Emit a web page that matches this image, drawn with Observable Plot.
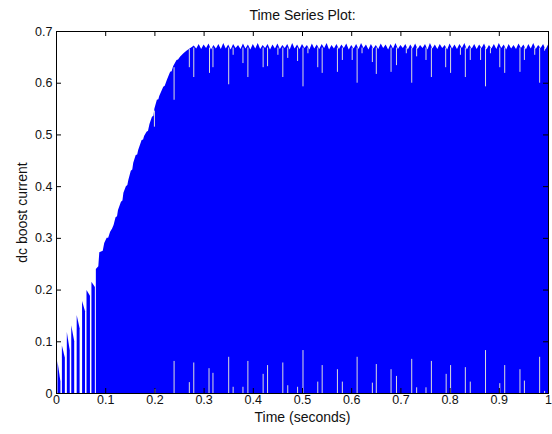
<!DOCTYPE html>
<html>
<head>
<meta charset="utf-8">
<script src="https://cdn.jsdelivr.net/npm/d3@7"></script>
<script src="https://cdn.jsdelivr.net/npm/@observablehq/plot@0.6"></script>
<style>
  html, body { margin: 0; padding: 0; background: #fff; }
  #chart svg { display: block; }
</style>
</head>
<body>
<div id="chart"></div>
<script>
// ---- tick values and labels ----
const xTicks = [0, 0.1, 0.2, 0.3, 0.4, 0.5, 0.6, 0.7, 0.8, 0.9, 1];
const xTickLabels = ["0", "0.1", "0.2", "0.3", "0.4", "0.5", "0.6", "0.7", "0.8", "0.9", "1"];
const yTicks = [0, 0.1, 0.2, 0.3, 0.4, 0.5, 0.6, 0.7];
const yTickLabels = ["0", "0.1", "0.2", "0.3", "0.4", "0.5", "0.6", "0.7"];

// ---- early separate pulses (start, end, peak, value at end) ----
const pulseStart = [0.003, 0.012, 0.022, 0.031, 0.042, 0.053, 0.062, 0.072];
const pulseEnd   = [0.009, 0.018, 0.028, 0.037, 0.048, 0.059, 0.069, 0.079];
const pulsePeak  = [0.062, 0.092, 0.118, 0.131, 0.151, 0.178, 0.199, 0.215];
const pulseLow   = [0.022, 0.068, 0.082, 0.100, 0.125, 0.158, 0.188, 0.205];

// ---- rising envelope of the continuous current ----
const riseT = [0.081, 0.086, 0.088, 0.095, 0.098, 0.103, 0.106, 0.110, 0.114, 0.117, 0.121, 0.124, 0.126, 0.132,
               0.135, 0.137, 0.142, 0.145, 0.147, 0.152, 0.155, 0.157, 0.162, 0.165, 0.167, 0.174, 0.177, 0.179,
               0.184, 0.187, 0.190, 0.195, 0.198, 0.200, 0.205, 0.208, 0.210, 0.218, 0.221, 0.225, 0.232, 0.235,
               0.238, 0.245, 0.248, 0.252, 0.259, 0.265, 0.270, 0.276];
const riseV = [0.240, 0.245, 0.272, 0.275, 0.290, 0.300, 0.300, 0.312, 0.318, 0.325, 0.340, 0.342, 0.354, 0.370,
               0.372, 0.387, 0.400, 0.402, 0.412, 0.430, 0.432, 0.445, 0.460, 0.461, 0.470, 0.489, 0.490, 0.497,
               0.505, 0.507, 0.520, 0.534, 0.536, 0.550, 0.567, 0.568, 0.575, 0.592, 0.594, 0.605, 0.621, 0.622,
               0.632, 0.644, 0.645, 0.650, 0.657, 0.662, 0.665, 0.669];

// ---- steady-state envelope (ripple), sampled every 0.005 s from 0.28 s ----
const flatStart = 0.28, flatStep = 0.005;
const flatV = [
  0.672,0.666,0.675,0.665,0.674,0.667,0.676,0.664,0.673,0.666,
  0.675,0.665,0.677,0.666,0.674,0.664,0.675,0.667,0.673,0.665,
  0.676,0.666,0.674,0.664,0.675,0.666,0.677,0.665,0.673,0.667,
  0.675,0.664,0.674,0.666,0.676,0.665,0.673,0.667,0.675,0.664,
  0.677,0.666,0.674,0.665,0.675,0.667,0.673,0.664,0.676,0.666,
  0.674,0.665,0.675,0.667,0.677,0.664,0.673,0.666,0.675,0.665,
  0.674,0.667,0.676,0.664,0.673,0.666,0.675,0.665,0.677,0.667,
  0.674,0.664,0.675,0.666,0.673,0.665,0.676,0.667,0.674,0.664,
  0.675,0.666,0.677,0.665,0.673,0.667,0.675,0.664,0.674,0.666,
  0.676,0.665,0.673,0.667,0.675,0.664,0.677,0.666,0.674,0.665,
  0.675,0.667,0.673,0.664,0.676,0.666,0.674,0.665,0.675,0.667,
  0.677,0.664,0.673,0.666,0.675,0.665,0.674,0.667,0.676,0.664,
  0.673,0.666,0.675,0.665,0.677,0.667,0.674,0.664,0.675,0.666,
  0.673,0.665,0.676,0.667,0.674,0.664,0.675,0.666,0.677,0.665,
  0.673,0.667,0.675,0.664,0.674
];

// ---- dips from the top (time, lowest value, envelope at that time) ----
const dipT = [0.199,0.239,0.270,0.279,0.311,0.318,0.350,0.359,0.379,0.389,0.420,0.429,0.450,0.460,0.470,0.490,
              0.501,0.511,0.531,0.540,0.571,0.581,0.601,0.611,0.621,0.642,0.650,0.680,0.691,0.711,0.722,0.732,
              0.751,0.762,0.791,0.801,0.821,0.831,0.841,0.862,0.872,0.882,0.901,0.911,0.942,0.951,0.972,0.982,0.992];
const dipV = [0.515,0.567,0.630,0.611,0.619,0.630,0.597,0.654,0.638,0.611,0.630,0.632,0.654,0.611,0.648,0.642,
              0.593,0.657,0.630,0.619,0.621,0.644,0.644,0.600,0.657,0.640,0.617,0.621,0.634,0.657,0.600,0.651,
              0.644,0.611,0.630,0.619,0.654,0.611,0.644,0.644,0.593,0.657,0.630,0.619,0.621,0.644,0.654,0.600,0.662];
const dipTop = [0.546,0.630,0.665,0.668,0.668,0.668,0.668,0.668,0.668,0.668,0.668,0.668,0.668,0.668,0.668,0.668,
                0.668,0.668,0.668,0.668,0.668,0.668,0.668,0.668,0.668,0.668,0.668,0.668,0.668,0.668,0.668,0.668,
                0.668,0.668,0.668,0.668,0.668,0.668,0.668,0.668,0.668,0.668,0.668,0.668,0.668,0.668,0.668,0.668,0.668];

// ---- zero-current gaps from the bottom (time, height) ----
const gapT = [0.200,0.239,0.270,0.279,0.310,0.318,0.350,0.359,0.379,0.389,0.420,0.429,0.460,0.470,0.490,0.501,
              0.531,0.540,0.571,0.581,0.611,0.642,0.650,0.680,0.691,0.722,0.732,0.751,0.762,0.792,0.801,0.831,
              0.841,0.872,0.901,0.911,0.942,0.951,0.982,0.992];
const gapV = [0.008,0.062,0.021,0.059,0.048,0.039,0.070,0.012,0.012,0.062,0.037,0.054,0.059,0.015,0.012,0.083,
              0.022,0.054,0.046,0.022,0.070,0.020,0.056,0.046,0.033,0.066,0.011,0.011,0.062,0.037,0.054,0.050,
              0.022,0.083,0.019,0.054,0.046,0.024,0.070,0.004];

// ---- build tables for the library ----
const pulses = [];
pulseStart.forEach((s, i) => {
  pulses.push({id: i, t: s, v: pulsePeak[i]});
  pulses.push({id: i, t: pulseEnd[i], v: pulseLow[i]});
});
const envelope = riseT.map((t, i) => ({t, v: riseV[i]}))
  .concat(flatV.map((v, i) => ({t: Math.min(1, flatStart + i * flatStep), v})));
const dips = dipT.map((t, i) => ({t, v: dipV[i], top: dipTop[i]}));
const gaps = gapT.map((t, i) => ({t, v: gapV[i]}));

const BLUE = "#0000ff";
const GAP = "#dcdcdc";
const yTickLen = 0.7 * 5 / 362;  // ~5px
const xTickLen = 5 / 492;        // ~5px
const LABEL_FONT = {fontSize: 14, fill: "#111", lineAnchor: "middle", textAnchor: "middle"};

const chart = Plot.plot({
  width: 552,
  height: 434,
  marginLeft: 56,
  marginRight: 4,
  marginTop: 31,
  marginBottom: 41,
  style: {fontFamily: "'Liberation Sans', Arial, sans-serif", fontSize: "12.5px", color: "#111", background: "#fff"},
  x: {domain: [0, 1]},
  y: {domain: [0, 0.7]},
  marks: [
    Plot.areaY(pulses, {x: "t", y: "v", z: "id", fill: BLUE, curve: "linear"}),
    Plot.areaY(envelope, {x: "t", y: "v", fill: BLUE, curve: "linear"}),
    Plot.ruleX(dips, {x: "t", y1: "v", y2: "top", stroke: GAP, strokeWidth: 1}),
    Plot.ruleX(gaps, {x: "t", y1: 0, y2: "v", stroke: GAP, strokeWidth: 1}),
    // inward ticks (MATLAB style) on all four sides
    Plot.ruleX(xTicks.slice(1, -1), {x: d => d, y1: 0, y2: yTickLen, stroke: "#000"}),
    Plot.ruleX(xTicks.slice(1, -1), {x: d => d, y1: 0.7 - yTickLen, y2: 0.7, stroke: "#000"}),
    Plot.ruleY(yTicks.slice(1, -1), {y: d => d, x1: 0, x2: xTickLen, stroke: "#000"}),
    Plot.ruleY(yTicks.slice(1, -1), {y: d => d, x1: 1 - xTickLen, x2: 1, stroke: "#000"}),
    Plot.frame({stroke: "#000", strokeWidth: 1}),
    Plot.axisX(xTicks, {tickSize: 0, tickPadding: 2, tickFormat: d => xTickLabels[xTicks.indexOf(d)], label: null, fill: "#111"}),
    Plot.axisY(yTicks, {tickSize: 0, tickPadding: 4, tickFormat: d => yTickLabels[yTicks.indexOf(d)], label: null, fill: "#111"}),
    Plot.text(["Time Series Plot:"], {frameAnchor: "top", dy: -15.5, ...LABEL_FONT}),
    Plot.text(["Time (seconds)"], {frameAnchor: "bottom", dy: 24, ...LABEL_FONT}),
    Plot.text(["dc boost current"], {frameAnchor: "left", dx: -34, rotate: -90, ...LABEL_FONT})
  ]
});
document.getElementById("chart").appendChild(chart);
</script>
</body>
</html>
